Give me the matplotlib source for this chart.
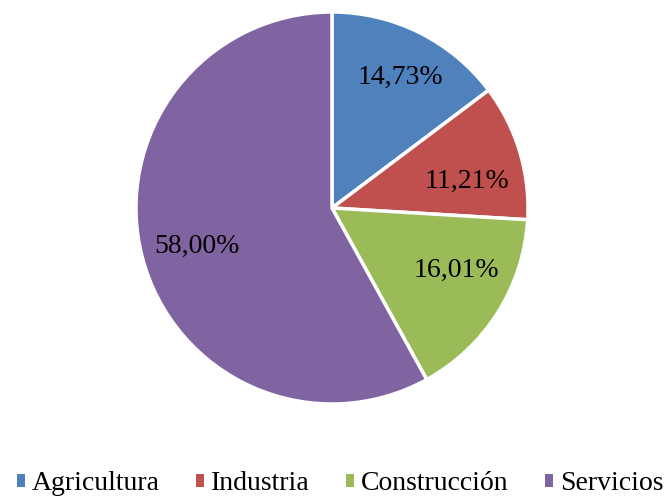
import numpy as np
import matplotlib.pyplot as plt
from matplotlib.patches import Patch

# Datos
sectores = ['Agricultura', 'Industria', 'Construcción', 'Servicios']
porcentajes = [14.73, 11.21, 16.01, 58.00]
colores = ['#4F81BD', '#C0504D', '#9BBB59', '#8064A2']

plt.rcParams['font.family'] = ['Liberation Serif', 'DejaVu Serif']

fig = plt.figure(figsize=(6.67, 4.99), dpi=100)
W, H = 667, 499
cx, cy, r = 332, 208, 196
ax = fig.add_axes([(cx - r) / W, (H - cy - r) / H, 2 * r / W, 2 * r / H])

etiquetas = iter(['%.2f%%' % v for v in porcentajes])
wedges, texts, autotexts = ax.pie(
    porcentajes, colors=colores, startangle=90, counterclock=False,
    autopct=lambda p: next(etiquetas).replace('.', ','), pctdistance=0.73,
    wedgeprops=dict(edgecolor='white', linewidth=2.5),
    textprops=dict(fontsize=20, color='black'))
ax.set_aspect('equal')
ax.set_xlim(-1, 1)
ax.set_ylim(-1, 1)

# ajuste fino de las etiquetas (como en Excel)
giro = [-1, -5.5, 5.5, 1.5]
dist = [0.75, 0.70, 0.71, 0.715]
for w, t, g, d in zip(wedges, autotexts, giro, dist):
    ang = np.deg2rad((w.theta1 + w.theta2) / 2 + g)
    t.set_position((d * np.cos(ang), d * np.sin(ang)))

handles = [Patch(facecolor=c, edgecolor='none') for c in colores]
fig.legend(handles, sectores, loc='center', bbox_to_anchor=(0.51, 15 / H), ncol=4,
           frameon=False, fontsize=20, handlelength=0.3, handleheight=0.3,
           handletextpad=0.25, columnspacing=1.3, borderpad=0)

fig.savefig('out.png', dpi=100)
